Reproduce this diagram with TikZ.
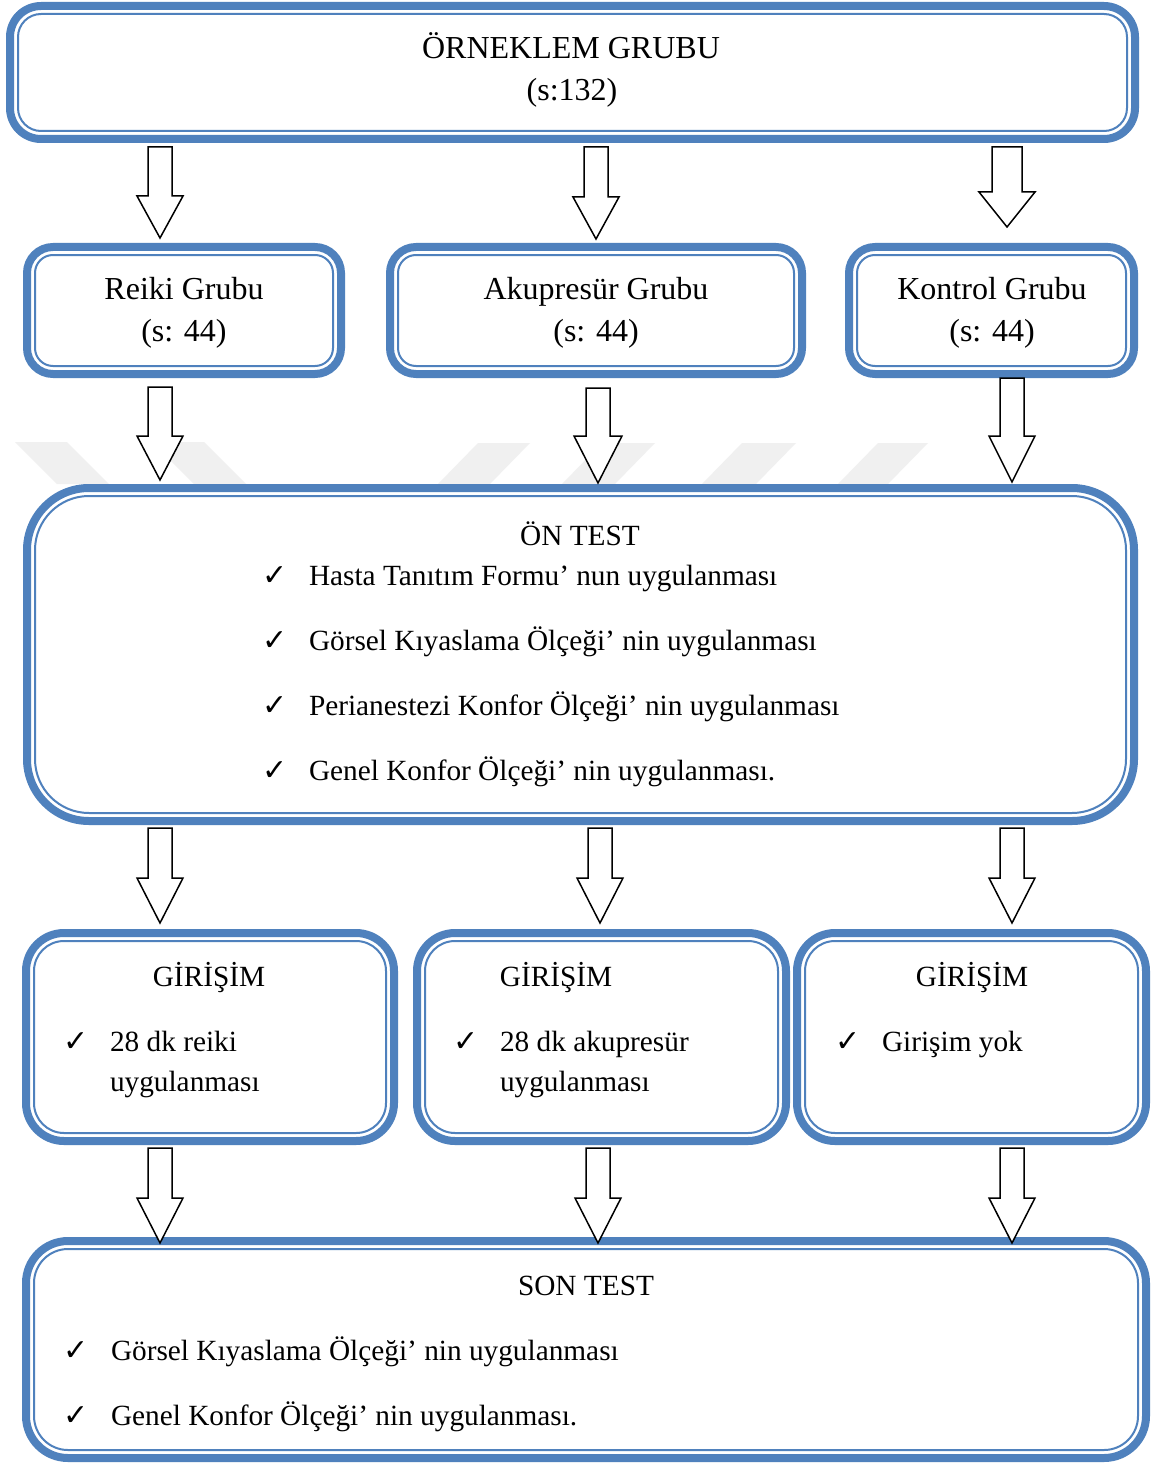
\documentclass[tikz,border=0pt]{standalone}
\usepackage{fontspec}
\setmainfont{Liberation Serif}
\newfontfamily\symfont{DejaVu Sans}
\usetikzlibrary{calc}
\definecolor{bblue}{RGB}{79,129,189}
\definecolor{wmark}{RGB}{240,240,240}
\tikzset{
  boxouter/.style={draw=bblue, line width=8pt, fill=white, inner sep=0pt, outer sep=0pt},
  boxinner/.style={draw=bblue, line width=2pt},
  barrow/.style={draw=black, fill=white, line width=1.5pt, line join=miter},
  txt/.style={inner sep=0pt, outer sep=0pt, font=\fontsize{29.3}{40}\selectfont},
  big/.style={font=\fontsize{32}{40}\selectfont},
  ttl/.style={txt, anchor=base},
  itm/.style={txt, anchor=base west},
  chk/.style={inner sep=0pt, outer sep=0pt, anchor=base west, font=\symfont\fontsize{30}{34}\selectfont},
  wm/.style={fill=wmark, draw=none}
}
% #1 name, #2 cx, #3 cy, #4 w, #5 h, #6 outer radius, #7 inner radius
\newcommand{\dbox}[7]{%
  \node[boxouter, rounded corners=#6pt, minimum width=#4pt, minimum height=#5pt] (#1) at (#2,#3) {};
  \draw[boxinner, rounded corners=#7pt] ([xshift=8pt,yshift=-8pt]#1.north west) rectangle ([xshift=-8pt,yshift=8pt]#1.south east);
}
% #1 x, #2 source, #3 target, #4 top gap, #5 tip gap, #6 half shaft, #7 half head, #8 head length
\newcommand{\barr}[8]{%
  \draw[barrow] let \p1=(#2.south), \p2=(#3.north) in
    (#1pt-#6pt,\y1-#4pt) -- (#1pt+#6pt,\y1-#4pt) -- (#1pt+#6pt,\y2+#5pt+#8pt)
    -- (#1pt+#7pt,\y2+#5pt+#8pt) -- (#1pt,\y2+#5pt) -- (#1pt-#7pt,\y2+#5pt+#8pt)
    -- (#1pt-#6pt,\y2+#5pt+#8pt) -- cycle;
}
\begin{document}
\begin{tikzpicture}[x=1pt,y=-1pt]
\useasboundingbox (0,0) rectangle (1155,1463);
\fill[white] (0,0) rectangle (1155,1463);

% watermark
\fill[wm] (15,442) -- (67,442) -- (109,484) -- (57,484) -- cycle;
\fill[wm] (152,442) -- (204,442) -- (246,484) -- (194,484) -- cycle;
\fill[wm] (478,443) -- (530,443) -- (490,484) -- (438,484) -- cycle;
\fill[wm] (602,443) -- (655,443) -- (615,484) -- (562,484) -- cycle;
\fill[wm] (742,443) -- (796,443) -- (756,484) -- (702,484) -- cycle;
\fill[wm] (878,443) -- (928,443) -- (888,484) -- (838,484) -- cycle;

% boxes
\dbox{top}{572.5}{72.5}{1125}{133}{31}{23}
\dbox{reiki}{184}{310.5}{314}{127}{26}{18}
\dbox{akup}{596}{310.5}{412}{127}{26}{18}
\dbox{kontrol}{991.5}{310.5}{285}{127}{26}{18}
\dbox{ontest}{580.5}{654.5}{1107}{333}{62}{54}
\dbox{gir1}{210}{1037}{368}{208}{38}{30}
\dbox{gir2}{601.5}{1037}{369}{208}{38}{30}
\dbox{gir3}{971.5}{1037}{349}{208}{38}{30}
\dbox{sontest}{586}{1349.5}{1120}{217}{42}{34}

% texts
\node[ttl,big] (t1) at (571,59) {ÖRNEKLEM GRUBU};
\node[ttl,big] (t2) at (572,101) {(s:132)};

\node[ttl,big] (r1) at (184,299) {Reiki Grubu};
\node[ttl,big] (r2) at (184,341) {(s: 44)};
\node[ttl,big] (a1) at (596,299) {Akupresür Grubu};
\node[ttl,big] (a2) at (596,341) {(s: 44)};
\node[ttl,big] (k1) at (992,299) {Kontrol Grubu};
\node[ttl,big] (k2) at (992,341) {(s: 44)};

\node[ttl] (o0) at (580,545) {ÖN TEST};
\node[chk] (oc1) at (262,585) {✓};
\node[itm] (o1) at (309,585) {Hasta Tanıtım Formu’ nun uygulanması};
\node[chk] (oc2) at (262,650) {✓};
\node[itm] (o2) at (309,650) {Görsel Kıyaslama Ölçeği’ nin uygulanması};
\node[chk] (oc3) at (262,715) {✓};
\node[itm] (o3) at (309,715) {Perianestezi Konfor Ölçeği’ nin uygulanması};
\node[chk] (oc4) at (262,780) {✓};
\node[itm] (o4) at (309,780) {Genel Konfor Ölçeği’ nin uygulanması.};

\node[ttl] (g10) at (209,986) {GİRİŞİM};
\node[chk] (g1c) at (63,1051) {✓};
\node[itm] (g11) at (110,1051) {28 dk reiki};
\node[itm] (g12) at (110,1091) {uygulanması};
\node[ttl] (g20) at (556,986) {GİRİŞİM};
\node[chk] (g2c) at (453,1051) {✓};
\node[itm] (g21) at (500,1051) {28 dk akupresür};
\node[itm] (g22) at (500,1091) {uygulanması};
\node[ttl] (g30) at (972,986) {GİRİŞİM};
\node[chk] (g3c) at (835,1051) {✓};
\node[itm] (g31) at (882,1051) {Girişim yok};

\node[ttl] (s0) at (586,1295) {SON TEST};
\node[chk] (sc1) at (63,1360) {✓};
\node[itm] (s1) at (111,1360) {Görsel Kıyaslama Ölçeği’ nin uygulanması};
\node[chk] (sc2) at (63,1425) {✓};
\node[itm] (s2) at (111,1425) {Genel Konfor Ölçeği’ nin uygulanması.};

% arrows
\barr{160}{top}{reiki}{8}{9}{12}{23}{42}
\barr{596}{top}{akup}{8}{8}{12}{23}{42}
\barr{1007}{top}{kontrol}{8}{20}{15}{28}{35}

\barr{160}{reiki}{ontest}{13}{8}{12}{23}{44}
\barr{598}{akup}{ontest}{14}{5}{12}{24}{47}
\barr{1012}{kontrol}{ontest}{4}{6}{12}{23}{46}

\barr{160}{ontest}{gir1}{7}{10}{12}{23}{45}
\barr{600}{ontest}{gir2}{7}{10}{12}{23}{45}
\barr{1012}{ontest}{gir3}{7}{10}{12}{23}{45}

\barr{160}{gir1}{sontest}{7}{-2}{12}{23}{45}
\barr{598}{gir2}{sontest}{7}{-2}{12}{23}{45}
\barr{1012}{gir3}{sontest}{7}{-2}{12}{23}{45}
\end{tikzpicture}
\end{document}
